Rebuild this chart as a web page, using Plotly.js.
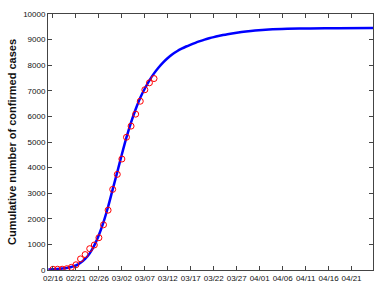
<!DOCTYPE html>
<html><head><meta charset="utf-8">
<script src="https://cdn.plot.ly/plotly-3.0.1.min.js"></script>
<style>html,body{margin:0;padding:0;background:#fff}#c{width:384px;height:287px}</style>
</head><body><div id="c"></div>
<script>
// Observed cumulative confirmed cases
const obsDates = ["2020-02-16","2020-02-17","2020-02-18","2020-02-19","2020-02-20","2020-02-21","2020-02-22","2020-02-23","2020-02-24","2020-02-25","2020-02-26","2020-02-27","2020-02-28","2020-02-29","2020-03-01","2020-03-02","2020-03-03","2020-03-04","2020-03-05","2020-03-06","2020-03-07","2020-03-08","2020-03-09"];
const obsCases = [29,30,31,51,104,204,433,602,833,977,1261,1766,2337,3150,3736,4335,5186,5621,6088,6593,7041,7313,7478];

// Fitted curve
const fitDates = ["2020-02-15","2020-02-16","2020-02-17","2020-02-18","2020-02-19","2020-02-20","2020-02-21","2020-02-22","2020-02-23","2020-02-24","2020-02-25","2020-02-26","2020-02-27","2020-02-28","2020-02-29",
  "2020-03-01","2020-03-02","2020-03-03","2020-03-04","2020-03-05","2020-03-06","2020-03-07","2020-03-08","2020-03-09","2020-03-10","2020-03-11","2020-03-12","2020-03-13","2020-03-14","2020-03-15","2020-03-16","2020-03-17","2020-03-18","2020-03-19","2020-03-20","2020-03-21","2020-03-22","2020-03-23","2020-03-24","2020-03-25",
  "2020-03-27","2020-03-29","2020-03-31","2020-04-03","2020-04-07","2020-04-12","2020-04-18","2020-04-26"];
const fitCases = [15,25,35,55,80,120,175,280,430,650,960,1370,1870,2470,3150,
  3830,4520,5180,5770,6280,6730,7090,7410,7680,7910,8110,8280,8425,8545,8645,8730,8805,8875,8940,9000,9052,9098,9140,9178,9212,
  9270,9318,9356,9395,9422,9438,9446,9450];

const tickFont = {family: "Liberation Sans, Arial, sans-serif", size: 8, color: "#111"};

Plotly.newPlot("c", [
  {x: fitDates, y: fitCases, type: "scatter", mode: "lines", line: {color: "#0000ff", width: 2.5, shape: "spline", smoothing: 0.8}, hoverinfo: "skip"},
  {x: obsDates, y: obsCases, type: "scatter", mode: "markers", marker: {symbol: "circle-open", color: "#ff0000", size: 6, line: {width: 1}}}
], {
  width: 384, height: 287,
  margin: {l: 48, r: 11, t: 14, b: 17},
  showlegend: false,
  paper_bgcolor: "#fff", plot_bgcolor: "#fff",
  xaxis: {
    type: "date",
    range: ["2020-02-14 22:00", "2020-04-25 16:00"],
    tick0: "2020-02-16", dtick: 5*86400000,
    tickformat: "%m/%d",
    ticks: "inside", ticklen: 4, tickcolor: "#444",
    showline: true, linecolor: "#444", linewidth: 1, mirror: "ticks",
    showgrid: false, zeroline: false,
    tickfont: tickFont
  },
  yaxis: {
    range: [0, 10000], dtick: 1000, tickformat: "d",
    ticks: "inside", ticklen: 4, tickcolor: "#444",
    showline: true, linecolor: "#444", linewidth: 1, mirror: "ticks",
    showgrid: false, zeroline: false,
    tickfont: tickFont,
    title: {text: "<b>Cumulative number of confirmed cases</b>", font: {family: "Liberation Sans, Arial, sans-serif", size: 11, color: "#111"}, standoff: 4}
  }
}, {staticPlot: true});
</script>
</body></html>
